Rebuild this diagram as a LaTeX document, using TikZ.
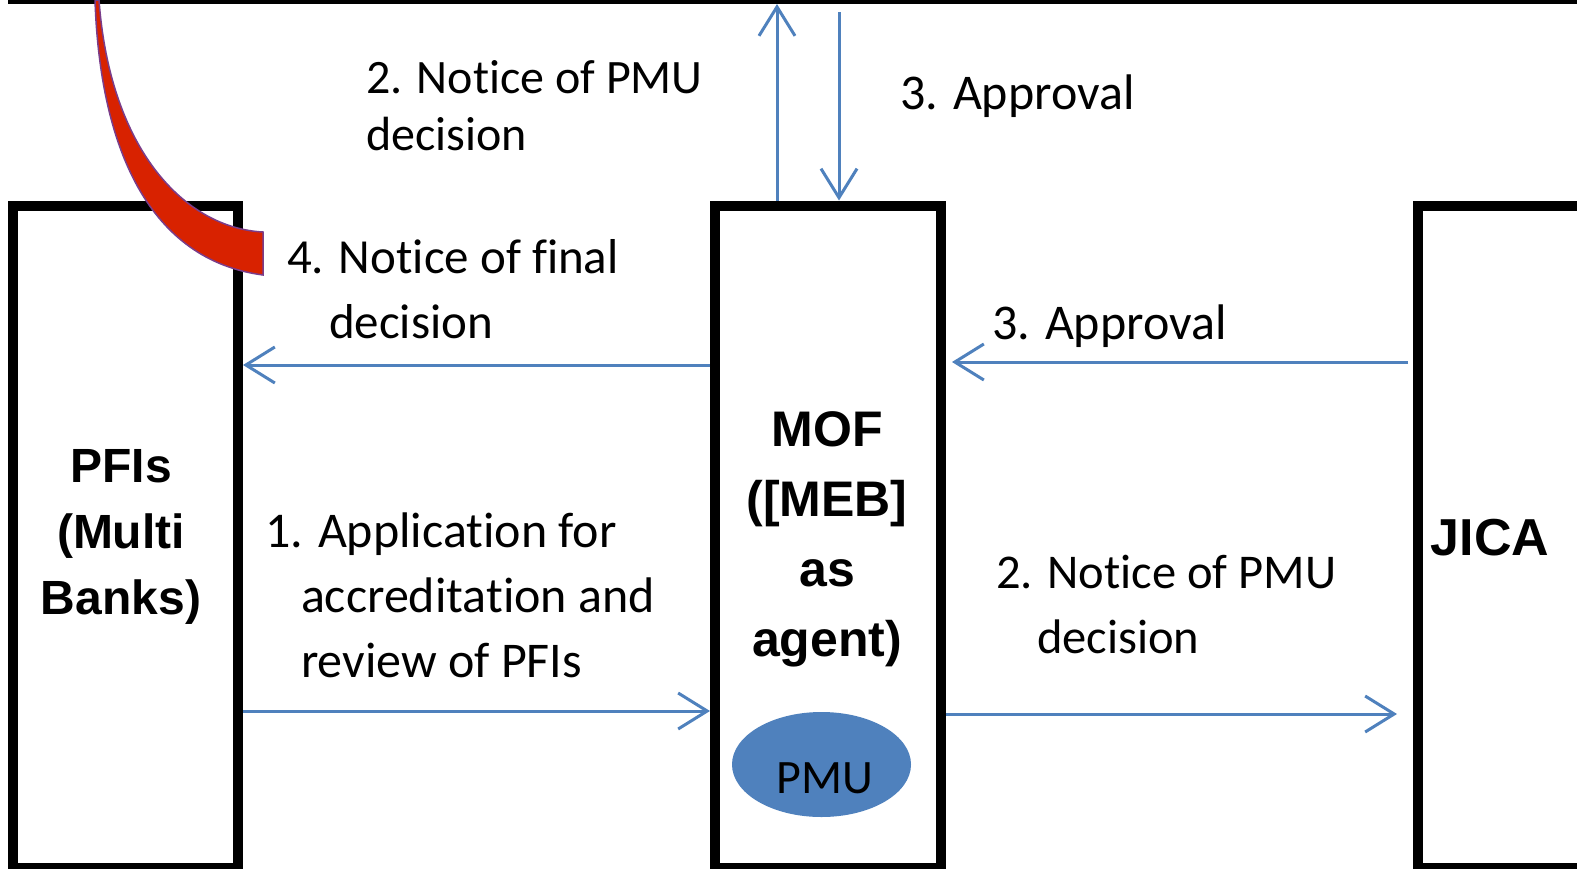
\documentclass[tikz,border=0pt]{standalone}
\usepackage{fontspec}
\setmainfont{Carlito}[Ligatures=CommonOff]
\newfontfamily\arialfam{Liberation Sans}
\usetikzlibrary{arrows.meta,shapes.geometric}
\definecolor{flowblue}{HTML}{4F81BD}
\definecolor{bandred}{HTML}{D82200}
\definecolor{bandedge}{HTML}{7A3D8A}
\newcommand\hanglbl[3]{\begin{tabular}[t]{@{}p{#1}@{}l@{}}\multicolumn{2}{@{}l@{}}{#2}\\#3\end{tabular}}
\newcommand\plainlbl[1]{\begin{tabular}[t]{@{}l@{}}#1\end{tabular}}
\newcommand\ctrlbl[1]{\begin{tabular}[t]{@{}c@{}}#1\end{tabular}}
\begin{document}
\begin{tikzpicture}[x=1pt,y=-1pt,
  entity/.style={draw=black,line width=10pt,inner sep=0pt,outer sep=5pt,rectangle},
  flow/.style={draw=flowblue,line width=3pt,-{Straight Barb[length=29pt,width=36pt]}},
  lbl/.style={inner sep=0pt,outer sep=0pt,anchor=base west,font=\fontsize{50}{65}\selectfont},
  boldtitle/.style={inner sep=0pt,outer sep=0pt,anchor=base,font=\arialfam\bfseries\fontsize{48}{66}\selectfont},
]
\useasboundingbox (0,0) rectangle (1577,868);
\clip (0,0) rectangle (1577,868);
\fill[white] (0,0) rectangle (1577,868);

% top rule
\node[fill=black,minimum width=1569pt,minimum height=4pt,inner sep=0pt,outer sep=0pt,anchor=north west] (topbar) at (8,0) {};

% boxes
\node[entity,minimum width=225.5pt,minimum height=662pt] (pfi) at (125.25,536.5) {};
\node[entity,minimum width=226pt,minimum height=662pt] (mof) at (828,536.5) {};
\node[entity,minimum width=164pt,minimum height=662pt] (jica) at (1500,536.5) {};

% PMU
\node[ellipse,fill=flowblue,minimum width=179pt,minimum height=105pt,inner sep=0pt] (pmu) at (821.5,764.5) {};
\node[inner sep=0pt,anchor=base,font=\fontsize{48}{55}\selectfont] (pmutxt) at (824.5,793) {PMU};

% connectors
\coordinate (upx) at (777,5);
\coordinate (downstart) at (839,12);
\draw[flow] (upx |- mof.north) -- (upx |- topbar.south);
\draw[flow] (downstart) -- (downstart |- mof.north);
\draw[flow] (mof.west |- 0,365) -- (pfi.east |- 0,365);
\draw[flow,shorten <=5pt,shorten >=6pt] (jica.west |- 0,362) -- (mof.east |- 0,362);
\draw[flow] (pfi.east |- 0,711) -- (mof.west |- 0,711);
\draw[flow,shorten >=16pt] (mof.east |- 0,714) -- (jica.west |- 0,714);

% red curved band
\path[fill=bandred,draw=bandedge,line width=1.5pt]
  (95,0) .. controls (100,150) and (150,260) .. (263,275)
  -- (263,232)
  .. controls (185,228) and (110,150) .. (99,0) -- cycle;

% labels
\node[lbl,font=\fontsize{48}{57}\selectfont] (lbltwotop) at (366,93) {\plainlbl{2. Notice of PMU\\decision}};
\node[lbl] (lblthreetop) at (900,109) {\plainlbl{3. Approval}};
\node[lbl,font=\fontsize{49}{65}\selectfont] (lblfour) at (287,273) {\hanglbl{42pt}{4. Notice of final}{&decision}};
\node[lbl] (lblthreemid) at (992,339) {\plainlbl{3. Approval}};
\node[lbl] (lblone) at (265,547) {\hanglbl{36pt}{1. Application for}{&accreditation and\\&review of PFIs}};
\node[lbl,font=\fontsize{48.5}{65}\selectfont] (lbltwobot) at (996,588) {\hanglbl{41pt}{2. Notice of PMU}{&decision}};

% titles
\node[boldtitle] (pfitxt) at (121,482) {\ctrlbl{PFIs\\(Multi\\Banks)}};
\node[boldtitle,font=\arialfam\bfseries\fontsize{50}{70}\selectfont] (moftxt) at (827,446) {\ctrlbl{MOF\\([MEB]\\as\\agent)}};
\node[boldtitle,font=\arialfam\bfseries\fontsize{52}{69}\selectfont] (jicatxt) at (1490,555) {JICA};
\end{tikzpicture}
\end{document}
